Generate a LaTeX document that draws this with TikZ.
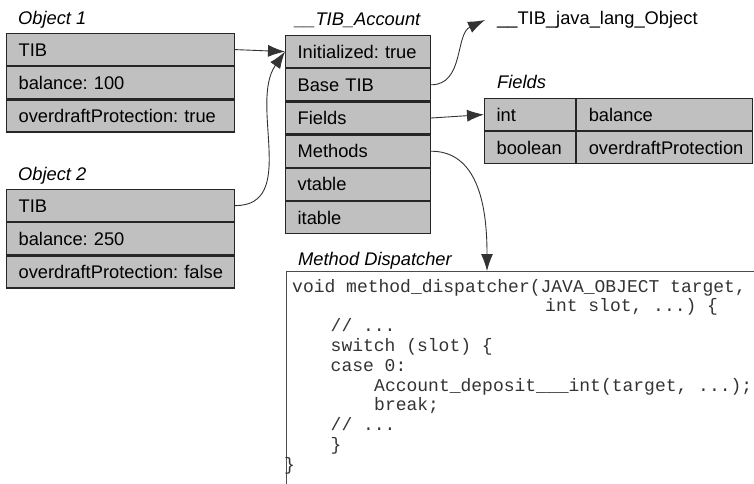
\documentclass[tikz,border=0pt]{standalone}
\usepackage{fontspec}
\setmainfont{Liberation Sans}
\newfontfamily\codefont{Liberation Mono}
\usetikzlibrary{arrows.meta,calc}
\definecolor{boxgray}{RGB}{192,192,192}
\frenchspacing
\begin{document}
\begin{tikzpicture}[x=1pt,y=1pt,
  cell/.style={draw=black!85, line width=1.2pt, fill=boxgray, minimum height=32pt,
    inner ysep=0pt, inner xsep=12pt, align=left, anchor=north west,
    text height=15pt, text depth=2pt, font=\fontsize{18.3}{22}\selectfont,
    execute at begin node=\hbox\bgroup, execute at end node=\egroup},
  objcell/.style={cell, text width=204pt},
  tibcell/.style={cell, text width=121pt},
  typecell/.style={cell, text width=67pt},
  namecell/.style={cell, text width=152pt},
  title/.style={anchor=base west, inner sep=0pt, font=\fontsize{18.3}{22}\selectfont\itshape},
  plain/.style={anchor=base west, inner sep=0pt, font=\fontsize{18.3}{22}\selectfont},
  codeline/.style={anchor=base west, inner sep=0pt, text=black!80, font=\codefont\fontsize{18}{20}\selectfont},
  conn/.style={draw=black!80, line width=0.9pt, -{Latex[length=17pt,width=12pt]}}
]
\useasboundingbox (0,0) rectangle (754,483);

% Object 1
\node[title] (o1title) at (18,458) {Object 1};
\node[objcell] (o1tib) at (6,450) {TIB};
\node[objcell] (o1bal) at (o1tib.south west) {balance: 100};
\node[objcell] (o1odp) at (o1bal.south west) {overdraftProtection: true};

% Object 2
\node[title] (o2title) at (18,303) {Object 2};
\node[objcell] (o2tib) at (6,294) {TIB};
\node[objcell] (o2bal) at (o2tib.south west) {balance: 250};
\node[objcell] (o2odp) at (o2bal.south west) {overdraftProtection: false};

% TIB Account
\node[title] (ttitle) at (295,457) {\_\_TIB\_Account};
\node[tibcell] (tinit) at (285,448) {Initialized: true};
\node[tibcell] (tbase) at (tinit.south west) {Base TIB};
\node[tibcell] (tfields) at (tbase.south west) {Fields};
\node[tibcell] (tmeth) at (tfields.south west) {Methods};
\node[tibcell] (tvt) at (tmeth.south west) {vtable};
\node[tibcell] (tit) at (tvt.south west) {itable};

% java.lang.Object
\node[plain, anchor=west, inner xsep=12pt] (jlo) at (485,463) {\_\_TIB\_java\_lang\_Object};

% Fields
\node[title] (ftitle) at (497,395) {Fields};
\node[typecell] (fint) at (484,385) {int};
\node[namecell] (fbal) at (fint.north east) {balance};
\node[typecell] (fbool) at (fint.south west) {boolean};
\node[namecell] (fodp) at (fbool.north east) {overdraftProtection};

% Method dispatcher
\node[title] (mtitle) at (298,218) {Method Dispatcher};
\node[draw=black!70, line width=1pt, anchor=north west, minimum width=500pt,
  minimum height=240pt, inner sep=0pt] (code) at (286,212) {};
\node[codeline] (c1) at (292,191) {void method\_dispatcher(JAVA\_OBJECT target,};
\node[codeline] (c2) at (545,171.2) {int slot, ...) \{};
\node[codeline] (c3) at (330.5,151.4) {// ...};
\node[codeline] (c4) at (330.5,131.6) {switch (slot) \{};
\node[codeline] (c5) at (330.5,111.8) {case 0:};
\node[codeline] (c6) at (374,92) {Account\_deposit\_\_\_int(target, ...);};
\node[codeline] (c7) at (374,72.2) {break;};
\node[codeline] (c8) at (330.5,52.4) {// ...};
\node[codeline] (c9) at (330.5,32.6) {\}};
\node[codeline] (c10) at (284,12.8) {\}};

% connectors
\draw[conn] (o1tib.east) -- (tinit.west);
\draw[conn] (o2tib.east) to[out=0,in=-125] (tinit.west);
\draw[conn] (tbase.east) to[out=0,in=-155] (jlo.west);
\draw[conn] (tfields.east) -- (fint.west);
\draw[conn] (tmeth.east) to[out=0,in=90] ($(code.north west)+(201,0)$);
\end{tikzpicture}
\end{document}
